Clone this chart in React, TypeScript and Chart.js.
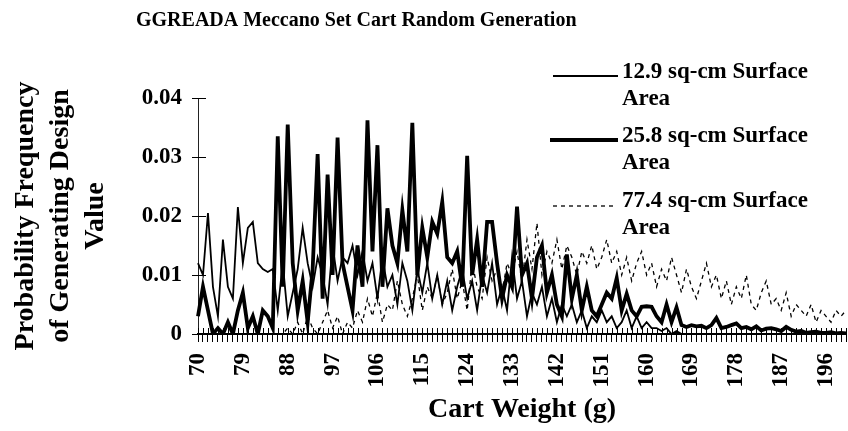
import React, { useEffect, useRef } from "react";
import { Chart, registerables } from "chart.js";

Chart.register(...registerables);

const TITLE = "GGREADA Meccano Set Cart Random Generation";
const X_TITLE = "Cart Weight (g)";
const Y_TITLE = ["Probability Frequency", "of Generating Design", "Value"];

const WEIGHTS = [
  70, 71, 72, 73, 74, 75, 76, 77, 78, 79,
  80, 81, 82, 83, 84, 85, 86, 87, 88, 89,
  90, 91, 92, 93, 94, 95, 96, 97, 98, 99,
  100, 101, 102, 103, 104, 105, 106, 107, 108, 109,
  110, 111, 112, 113, 114, 115, 116, 117, 118, 119,
  120, 121, 122, 123, 124, 125, 126, 127, 128, 129,
  130, 131, 132, 133, 134, 135, 136, 137, 138, 139,
  140, 141, 142, 143, 144, 145, 146, 147, 148, 149,
  150, 151, 152, 153, 154, 155, 156, 157, 158, 159,
  160, 161, 162, 163, 164, 165, 166, 167, 168, 169,
  170, 171, 172, 173, 174, 175, 176, 177, 178, 179,
  180, 181, 182, 183, 184, 185, 186, 187, 188, 189,
  190, 191, 192, 193, 194, 195, 196, 197, 198, 199,
  200,
];

const LABELED_WEIGHTS = [70, 79, 88, 97, 106, 115, 124, 133, 142, 151, 160, 169, 178, 187, 196];

const SERIES_NAMES = ["12.9 sq-cm Surface", "25.8 sq-cm Surface", "77.4 sq-cm Surface"];

const AREA_12_9 = [
  0.012, 0.010, 0.0205, 0.008, 0.003, 0.016, 0.008, 0.006, 0.0215, 0.012,
  0.018, 0.019, 0.012, 0.011, 0.0105, 0.011, 0.004, 0.012, 0.003, 0.007,
  0.011, 0.018, 0.012, 0.008, 0.013, 0.010, 0.005, 0.015, 0.009, 0.013,
  0.012, 0.015, 0.010, 0.014, 0.009, 0.012, 0.006, 0.013, 0.008, 0.010,
  0.005, 0.012, 0.009, 0.004, 0.011, 0.007, 0.012, 0.006, 0.010, 0.005,
  0.009, 0.004, 0.008, 0.011, 0.006, 0.009, 0.004, 0.010, 0.007, 0.012,
  0.005, 0.008, 0.004, 0.013, 0.006, 0.009, 0.003, 0.007, 0.005, 0.008,
  0.003, 0.006, 0.002, 0.005, 0.003, 0.005, 0.002, 0.004, 0.001, 0.003,
  0.002, 0.004, 0.002, 0.003, 0.001, 0.002, 0.004, 0.001, 0.003, 0.001,
  0.002, 0.001, 0.001, 0.0005, 0.001, 0, 0.0005, 0, 0, 0,
  0, 0, 0, 0, 0, 0, 0, 0, 0, 0,
  0, 0, 0, 0, 0, 0, 0, 0, 0, 0,
  0, 0, 0, 0, 0, 0, 0, 0, 0, 0,
  0,
];

const AREA_25_8 = [
  0.003, 0.008, 0.004, 0.000, 0.001, 0.000, 0.002, 0.000, 0.004, 0.007,
  0.001, 0.003, 0.000, 0.004, 0.003, 0.001, 0.0335, 0.008, 0.0355, 0.012,
  0.004, 0.009, 0.002, 0.011, 0.0305, 0.006, 0.027, 0.010, 0.0333, 0.012,
  0.008, 0.004, 0.015, 0.008, 0.0362, 0.014, 0.032, 0.008, 0.0213, 0.015,
  0.012, 0.021, 0.014, 0.0358, 0.010, 0.018, 0.013, 0.019, 0.017, 0.0224,
  0.013, 0.012, 0.014, 0.008, 0.0302, 0.010, 0.016, 0.008, 0.019, 0.019,
  0.012, 0.006, 0.010, 0.008, 0.0216, 0.010, 0.012, 0.006, 0.013, 0.015,
  0.007, 0.010, 0.005, 0.003, 0.0135, 0.006, 0.010, 0.004, 0.008, 0.004,
  0.003, 0.005, 0.007, 0.006, 0.0095, 0.004, 0.0068, 0.004, 0.003, 0.0046,
  0.0047, 0.0046, 0.003, 0.002, 0.005, 0.002, 0.0045, 0.0015, 0.0012, 0.0015,
  0.0013, 0.0014, 0.001, 0.0015, 0.0027, 0.001, 0.0012, 0.0015, 0.0018, 0.001,
  0.0012, 0.0008, 0.0013, 0.0006, 0.0009, 0.001, 0.0008, 0.0005, 0.0012, 0.0007,
  0.0004, 0.0005, 0.0002, 0.0003, 0.0004, 0.0002, 0.0002, 0.0003, 0.0001, 0.0002,
  0.0001,
];

const AREA_77_4 = [
  0, 0, 0, 0, 0, 0, 0, 0, 0, 0,
  0, 0, 0, 0, 0, 0, 0, 0, 0.001, 0,
  0.002, 0, 0.003, 0.001, 0, 0.002, 0.004, 0.001, 0.003, 0,
  0.002, 0.001, 0.004, 0.002, 0.006, 0.003, 0.007, 0.002, 0.005, 0.004,
  0.009, 0.005, 0.003, 0.006, 0.010, 0.004, 0.008, 0.006, 0.010, 0.005,
  0.007, 0.011, 0.006, 0.009, 0.004, 0.012, 0.008, 0.006, 0.013, 0.009,
  0.011, 0.007, 0.012, 0.010, 0.014, 0.009, 0.016, 0.011, 0.0188, 0.010,
  0.014, 0.012, 0.016, 0.011, 0.015, 0.013, 0.010, 0.014, 0.012, 0.015,
  0.011, 0.013, 0.016, 0.012, 0.014, 0.010, 0.013, 0.009, 0.012, 0.014,
  0.010, 0.012, 0.008, 0.011, 0.009, 0.013, 0.010, 0.007, 0.011, 0.008,
  0.006, 0.009, 0.012, 0.008, 0.010, 0.006, 0.009, 0.005, 0.008, 0.006,
  0.010, 0.005, 0.004, 0.007, 0.009, 0.005, 0.006, 0.004, 0.007, 0.003,
  0.005, 0.004, 0.003, 0.005, 0.002, 0.004, 0.003, 0.002, 0.004, 0.003,
  0.004,
];

const FONT = "'Liberation Serif', 'Times New Roman', serif";

const overlayPlugin = {
  id: "overlay",
  afterDraw(chart: any) {
    const ctx = chart.ctx;
    const xs = chart.scales.x;
    const ys = chart.scales.y;
    ctx.save();
    ctx.strokeStyle = "#000";
    ctx.lineWidth = 1;
    ctx.setLineDash([]);
    const axisY = ys.getPixelForValue(0);
    for (let i = 0; i < xs.ticks.length; i++) {
      const px = Math.round(xs.getPixelForTick(i)) + 0.5;
      ctx.beginPath();
      ctx.moveTo(px, axisY - 6);
      ctx.lineTo(px, axisY);
      ctx.stroke();
    }
    for (let i = 0; i < ys.ticks.length; i++) {
      const py = Math.round(ys.getPixelForTick(i)) + 0.5;
      ctx.beginPath();
      ctx.moveTo(ys.right, py);
      ctx.lineTo(ys.right + 8, py);
      ctx.stroke();
    }
    ctx.fillStyle = "#000";
    ctx.font = `bold 20px ${FONT}`;
    ctx.textAlign = "left";
    ctx.textBaseline = "alphabetic";
    ctx.fillText(TITLE, 136, 26);
    const legendRows = [
      { lineY: 76, base: 78, x0: 553, x1: 618 },
      { lineY: 140, base: 142, x0: 550, x1: 618 },
      { lineY: 206, base: 207, x0: 553, x1: 613 },
    ];
    chart.data.datasets.forEach((ds: any, i: number) => {
      const r = legendRows[i];
      ctx.strokeStyle = ds.borderColor;
      ctx.lineWidth = ds.borderWidth;
      ctx.setLineDash(ds.borderDash || []);
      ctx.beginPath();
      ctx.moveTo(r.x0, r.lineY);
      ctx.lineTo(r.x1, r.lineY);
      ctx.stroke();
      ctx.setLineDash([]);
      ctx.font = `bold 23px ${FONT}`;
      ctx.fillStyle = "#000";
      ctx.fillText(SERIES_NAMES[i], 622, r.base);
      ctx.fillText("Area", 622, r.base + 27);
    });
    ctx.restore();
  },
};

export default function App() {
  const canvasRef = useRef<HTMLCanvasElement | null>(null);

  useEffect(() => {
    document.body.style.margin = "0";
    const canvas = canvasRef.current;
    if (!canvas) return;
    const chart = new Chart(canvas, {
      type: "line",
      data: {
        labels: WEIGHTS.map(String),
        datasets: [
          {
            label: SERIES_NAMES[0] + " Area",
            data: AREA_12_9,
            borderColor: "#000",
            borderWidth: 1.8,
            pointRadius: 0,
            tension: 0,
            fill: false,
          },
          {
            label: SERIES_NAMES[1] + " Area",
            data: AREA_25_8,
            borderColor: "#000",
            borderWidth: 3.8,
            pointRadius: 0,
            tension: 0,
            fill: false,
          },
          {
            label: SERIES_NAMES[2] + " Area",
            data: AREA_77_4,
            borderColor: "#000",
            borderWidth: 1.3,
            borderDash: [4, 4],
            pointRadius: 0,
            tension: 0,
            fill: false,
          },
        ],
      },
      options: {
        responsive: false,
        animation: false,
        layout: { padding: { top: 98, left: 0, right: 2, bottom: 0 } },
        plugins: {
          legend: { display: false },
          title: { display: false },
          tooltip: { enabled: false },
        },
        scales: {
          x: {
            type: "category",
            offset: false,
            afterFit: (scale: any) => {
              scale.height = 97;
              scale.paddingLeft = 0;
              scale.paddingRight = 0;
            },
            border: { display: true, color: "#000", width: 2 },
            grid: {
              display: true,
              drawOnChartArea: false,
              drawTicks: true,
              tickLength: 8,
              color: "#000",
              lineWidth: 1,
            },
            ticks: {
              autoSkip: false,
              maxRotation: 90,
              minRotation: 90,
              padding: 11,
              color: "#000",
              font: { family: FONT, size: 23, weight: "bold" },
              callback: function (this: any, _v: any, index: number) {
                const w = WEIGHTS[index];
                return LABELED_WEIGHTS.includes(w) ? String(w) : "";
              },
            },
            title: {
              display: true,
              text: X_TITLE,
              color: "#000",
              font: { family: FONT, size: 28, weight: "bold", lineHeight: 1.1 },
              padding: { top: 0, bottom: 6 },
            },
          },
          y: {
            min: 0,
            max: 0.04,
            afterFit: (scale: any) => {
              scale.width = 198;
            },
            border: { display: true, color: "#222", width: 1, dash: [4, 3] },
            grid: {
              display: true,
              drawOnChartArea: false,
              drawTicks: true,
              tickLength: 6,
              color: "#000",
              lineWidth: 1,
            },
            ticks: {
              stepSize: 0.01,
              padding: 10,
              color: "#000",
              font: { family: FONT, size: 23, weight: "bold" },
              callback: (v: any) => (Number(v) === 0 ? "0" : Number(v).toFixed(2)),
            },
            title: {
              display: true,
              text: Y_TITLE,
              color: "#000",
              font: { family: FONT, size: 28, weight: "bold", lineHeight: 1.25 },
              padding: { top: 8, bottom: 0 },
            },
          },
        },
      },
      plugins: [overlayPlugin],
    });
    return () => chart.destroy();
  }, []);

  return (
    <div style={{ width: 848, height: 431, position: "relative", background: "#fff" }}>
      <canvas ref={canvasRef} width={848} height={431} />
    </div>
  );
}
